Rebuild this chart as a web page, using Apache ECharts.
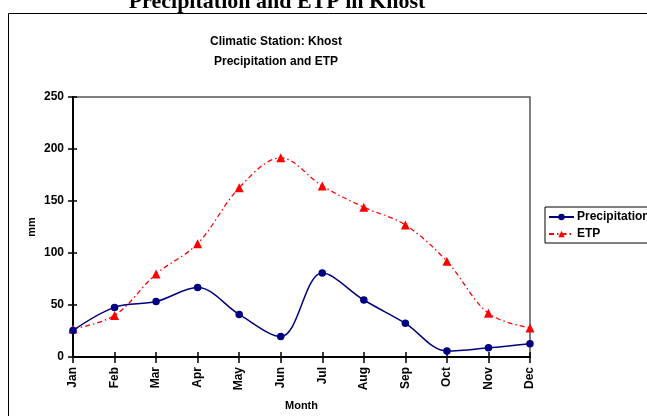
<!DOCTYPE html>
<html><head><meta charset="utf-8">
<script src="https://cdn.jsdelivr.net/npm/echarts@6/dist/echarts.min.js"></script>
<style>html,body{margin:0;padding:0;background:#fff}#c{width:647px;height:416px}</style>
</head><body><div id="c"></div>
<script>
const months = ['Jan','Feb','Mar','Apr','May','Jun','Jul','Aug','Sep','Oct','Nov','Dec'];
const precipitation = [25.5, 47.7, 53.3, 66.8, 40.9, 19.6, 80.7, 54.8, 32.4, 5.8, 8.8, 12.8];
const etp = [27, 40, 79.8, 109, 162.7, 191.5, 164.5, 144, 127, 92, 42, 28];
const yTicks = {min: 0, max: 250, interval: 50};

const chart = echarts.init(document.getElementById('c'), null, {renderer: 'canvas'});
const FONT = 'Arial, "Liberation Sans", sans-serif';
const bold11 = {fontFamily: FONT, fontWeight: 'bold', fontSize: 11, color: '#000'};
const bold12 = {fontFamily: FONT, fontWeight: 'bold', fontSize: 12, color: '#000'};
chart.setOption({
  animation: false,
  backgroundColor: '#fff',
  graphic: [
    {type: 'rect', shape: {x: 8.5, y: 13.5, width: 700, height: 500}, style: {fill: 'none', stroke: '#000', lineWidth: 1}, z: -1},
    {type: 'text', x: 277, y: -9, style: {text: 'Precipitation and ETP in Khost', font: 'bold 22px "Liberation Serif", "Times New Roman", serif', fill: '#000', textAlign: 'center', textVerticalAlign: 'top'}, silent: true}
  ],
  title: {
    text: 'Climatic Station: Khost\nPrecipitation and ETP',
    left: 271, top: 27, textAlign: 'center',
    textStyle: {fontFamily: FONT, fontWeight: 'bold', fontSize: 12, lineHeight: 20, color: '#000'}
  },
  legend: {
    orient: 'vertical', left: 545, top: 207,
    padding: [4, 4, 3, 3], itemGap: 5, itemWidth: 25, itemHeight: 8,
    borderColor: '#000', borderWidth: 1,
    textStyle: {...bold12, padding: [0, 0, 0, -2]},
    data: ['Precipitation', 'ETP']
  },
  grid: {left: 73, right: 117, top: 97, bottom: 58, show: true, borderColor: '#555', borderWidth: 1.5, containLabel: false},
  xAxis: [{
    type: 'category', data: months, boundaryGap: false,
    name: 'Month', nameLocation: 'middle', nameGap: 43, nameMoveOverlap: false,
    nameTextStyle: bold11,
    axisLine: {lineStyle: {color: '#000', width: 2}},
    axisTick: {show: true, length: 6, lineStyle: {color: '#000', width: 1.5}},
    axisLabel: {...bold12, rotate: 90, margin: 10},
    splitLine: {show: false}
  }, {
    type: 'category', data: months, boundaryGap: false, position: 'bottom',
    axisLine: {show: false},
    axisTick: {show: true, inside: true, length: 5, lineStyle: {color: '#000', width: 1.5}},
    axisLabel: {show: false}, splitLine: {show: false}
  }],
  yAxis: [{
    type: 'value', min: yTicks.min, max: yTicks.max, interval: yTicks.interval,
    name: 'mm', nameLocation: 'middle', nameGap: 36, nameRotate: 90, nameMoveOverlap: false,
    nameTextStyle: bold11,
    axisLine: {show: true, lineStyle: {color: '#000', width: 2}},
    axisTick: {show: true, length: 5, lineStyle: {color: '#000', width: 1.5}},
    axisLabel: {...bold12, margin: 9},
    splitLine: {show: false}
  }, {
    type: 'value', min: yTicks.min, max: yTicks.max, interval: yTicks.interval, position: 'left',
    axisLine: {show: false},
    axisTick: {show: true, inside: true, length: 4, lineStyle: {color: '#000', width: 1.5}},
    axisLabel: {show: false}, splitLine: {show: false}
  }],
  series: [{
    name: 'Precipitation', type: 'line', data: precipitation, smooth: 0.35,
    symbol: 'circle', symbolSize: 7.5,
    itemStyle: {color: '#000080'},
    lineStyle: {color: '#000080', width: 1.5}, z: 3
  }, {
    name: 'ETP', type: 'line', data: etp, smooth: 0.35,
    symbol: 'triangle', symbolSize: 9,
    itemStyle: {color: '#ff0000'},
    lineStyle: {color: '#ff0000', width: 1.3, type: [5, 3, 1.5, 3]}, z: 2
  }]
});
</script></body></html>
